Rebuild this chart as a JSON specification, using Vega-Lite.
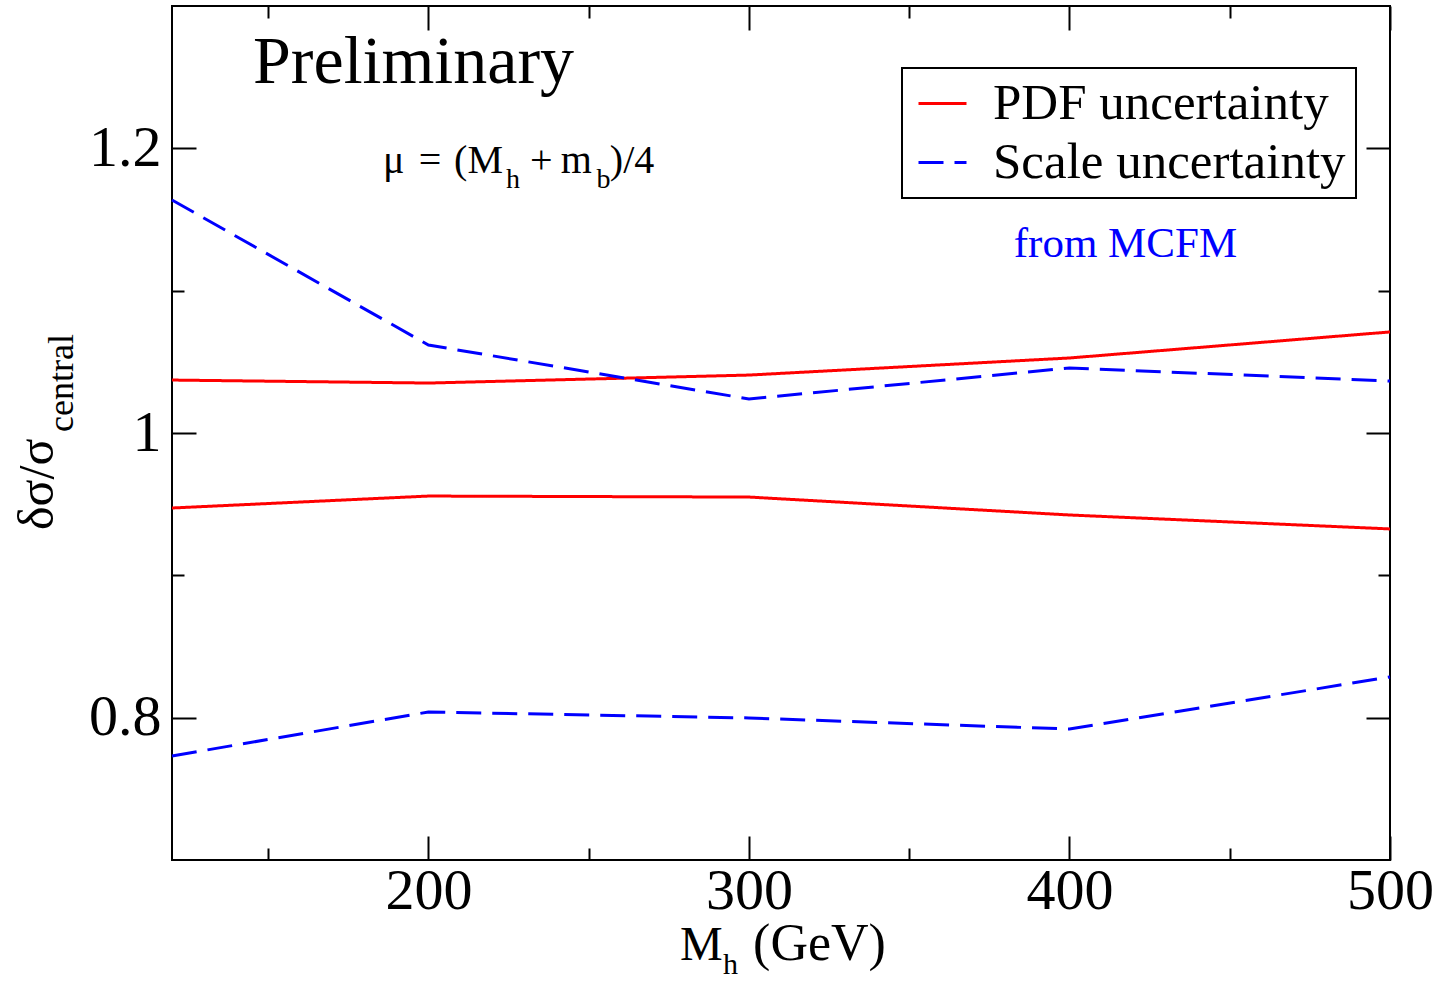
{
  "$schema": "https://vega.github.io/schema/vega-lite/v6.json",
  "width": 1218,
  "height": 854,
  "autosize": {"type": "none"},
  "padding": {"left": 172, "top": 6, "right": 51, "bottom": 122},
  "background": "white",
  "config": {
    "view": {"stroke": "black", "strokeWidth": 2},
    "axis": {"grid": false, "domain": false, "tickColor": "black", "tickWidth": 2, "labelFont": "Liberation Serif", "labelFontSize": 58, "labelColor": "black", "title": null, "labelFlush": false, "labelOverlap": false},
    "text": {"font": "Liberation Serif", "color": "black", "baseline": "alphabetic", "align": "left"},
    "legend": {"orient": "none", "legendX": 730, "legendY": 62, "padding": 10, "strokeColor": "black", "strokeWidth": 2, "fillColor": "white", "labelFont": "Liberation Serif", "labelFontSize": 51, "labelColor": "black", "labelLimit": 1000, "labelOffset": 25, "symbolOffset": 5, "symbolType": "stroke", "symbolSize": 2304, "symbolStrokeWidth": 3, "rowPadding": 7, "title": null}
  },
  "layer": [
    {
      "data": {"values": [
        {"mh": 120, "xs": 1.0372, "series": "PDF uncertainty", "bound": "upper"},
        {"mh": 200, "xs": 1.0351, "series": "PDF uncertainty", "bound": "upper"},
        {"mh": 300, "xs": 1.0407, "series": "PDF uncertainty", "bound": "upper"},
        {"mh": 400, "xs": 1.0527, "series": "PDF uncertainty", "bound": "upper"},
        {"mh": 500, "xs": 1.0710, "series": "PDF uncertainty", "bound": "upper"},
        {"mh": 120, "xs": 0.9473, "series": "PDF uncertainty", "bound": "lower"},
        {"mh": 200, "xs": 0.9557, "series": "PDF uncertainty", "bound": "lower"},
        {"mh": 300, "xs": 0.9550, "series": "PDF uncertainty", "bound": "lower"},
        {"mh": 400, "xs": 0.9424, "series": "PDF uncertainty", "bound": "lower"},
        {"mh": 500, "xs": 0.9326, "series": "PDF uncertainty", "bound": "lower"},
        {"mh": 120, "xs": 1.1637, "series": "Scale uncertainty", "bound": "upper"},
        {"mh": 200, "xs": 1.0618, "series": "Scale uncertainty", "bound": "upper"},
        {"mh": 300, "xs": 1.0239, "series": "Scale uncertainty", "bound": "upper"},
        {"mh": 400, "xs": 1.0457, "series": "Scale uncertainty", "bound": "upper"},
        {"mh": 500, "xs": 1.0365, "series": "Scale uncertainty", "bound": "upper"},
        {"mh": 120, "xs": 0.7731, "series": "Scale uncertainty", "bound": "lower"},
        {"mh": 200, "xs": 0.8040, "series": "Scale uncertainty", "bound": "lower"},
        {"mh": 300, "xs": 0.7998, "series": "Scale uncertainty", "bound": "lower"},
        {"mh": 400, "xs": 0.7920, "series": "Scale uncertainty", "bound": "lower"},
        {"mh": 500, "xs": 0.8286, "series": "Scale uncertainty", "bound": "lower"}
      ]},
      "mark": {"type": "line", "strokeWidth": 3},
      "encoding": {
        "x": {"field": "mh", "type": "quantitative", "scale": {"domain": [120, 500], "nice": false, "zero": false},
          "axis": {"orient": "bottom", "values": [150, 200, 250, 300, 350, 400, 450, 500], "labelExpr": "datum.value % 100 === 0 ? datum.label : ''", "tickSize": {"expr": "datum.value % 100 === 0 ? -24 : -12"}, "labelPadding": 26}},
        "y": {"field": "xs", "type": "quantitative", "scale": {"domain": [0.7, 1.3], "nice": false, "zero": false},
          "axis": {"orient": "left", "values": [0.8, 0.9, 1.0, 1.1, 1.2], "format": "~g", "labelExpr": "round(datum.value * 10) % 2 === 0 ? datum.label : ''", "tickSize": {"expr": "round(datum.value * 10) % 2 === 0 ? -24 : -12"}, "labelPadding": 35}},
        "color": {"field": "series", "type": "nominal", "scale": {"domain": ["PDF uncertainty", "Scale uncertainty"], "range": ["#ff0000", "#0000ff"]}},
        "strokeDash": {"field": "series", "type": "nominal", "scale": {"domain": ["PDF uncertainty", "Scale uncertainty"], "range": [[1, 0], [25, 11]]}},
        "detail": {"field": "bound"}
      }
    },
    {
      "data": {"values": [{"label": "Preliminary"}]},
      "mark": {"type": "text", "fontSize": 68},
      "encoding": {
        "x": {"datum": 145.27, "type": "quantitative", "scale": {"domain": [120, 500], "nice": false, "zero": false},
          "axis": {"orient": "top", "values": [150, 200, 250, 300, 350, 400, 450, 500], "labels": false, "tickSize": {"expr": "datum.value % 100 === 0 ? -24 : -12"}}},
        "y": {"datum": 1.2459, "type": "quantitative", "scale": {"domain": [0.7, 1.3], "nice": false, "zero": false},
          "axis": {"orient": "right", "values": [0.8, 0.9, 1.0, 1.1, 1.2], "labels": false, "tickSize": {"expr": "round(datum.value * 10) % 2 === 0 ? -24 : -12"}}},
        "text": {"field": "label"}
      }
    },
    {
      "data": {"values": [{"label": "μ"}]},
      "mark": {"type": "text", "fontSize": 40},
      "encoding": {
        "x": {"datum": 185.83, "type": "quantitative", "scale": {"domain": [120, 500], "nice": false, "zero": false}, "axis": null},
        "y": {"datum": 1.18267, "type": "quantitative", "scale": {"domain": [0.7, 1.3], "nice": false, "zero": false}, "axis": null},
        "text": {"field": "label"}
      }
    },
    {
      "data": {"values": [{"label": "="}]},
      "mark": {"type": "text", "fontSize": 40},
      "encoding": {
        "x": {"datum": 197.0, "type": "quantitative", "scale": {"domain": [120, 500], "nice": false, "zero": false}, "axis": null},
        "y": {"datum": 1.18267, "type": "quantitative", "scale": {"domain": [0.7, 1.3], "nice": false, "zero": false}, "axis": null},
        "text": {"field": "label"}
      }
    },
    {
      "data": {"values": [{"label": "(M"}]},
      "mark": {"type": "text", "fontSize": 40},
      "encoding": {
        "x": {"datum": 208.0, "type": "quantitative", "scale": {"domain": [120, 500], "nice": false, "zero": false}, "axis": null},
        "y": {"datum": 1.18267, "type": "quantitative", "scale": {"domain": [0.7, 1.3], "nice": false, "zero": false}, "axis": null},
        "text": {"field": "label"}
      }
    },
    {
      "data": {"values": [{"label": "h"}]},
      "mark": {"type": "text", "fontSize": 28},
      "encoding": {
        "x": {"datum": 224.2, "type": "quantitative", "scale": {"domain": [120, 500], "nice": false, "zero": false}, "axis": null},
        "y": {"datum": 1.17213, "type": "quantitative", "scale": {"domain": [0.7, 1.3], "nice": false, "zero": false}, "axis": null},
        "text": {"field": "label"}
      }
    },
    {
      "data": {"values": [{"label": "+"}]},
      "mark": {"type": "text", "fontSize": 40},
      "encoding": {
        "x": {"datum": 231.69, "type": "quantitative", "scale": {"domain": [120, 500], "nice": false, "zero": false}, "axis": null},
        "y": {"datum": 1.18267, "type": "quantitative", "scale": {"domain": [0.7, 1.3], "nice": false, "zero": false}, "axis": null},
        "text": {"field": "label"}
      }
    },
    {
      "data": {"values": [{"label": "m"}]},
      "mark": {"type": "text", "fontSize": 40},
      "encoding": {
        "x": {"datum": 241.3, "type": "quantitative", "scale": {"domain": [120, 500], "nice": false, "zero": false}, "axis": null},
        "y": {"datum": 1.18267, "type": "quantitative", "scale": {"domain": [0.7, 1.3], "nice": false, "zero": false}, "axis": null},
        "text": {"field": "label"}
      }
    },
    {
      "data": {"values": [{"label": "b"}]},
      "mark": {"type": "text", "fontSize": 28},
      "encoding": {
        "x": {"datum": 252.4, "type": "quantitative", "scale": {"domain": [120, 500], "nice": false, "zero": false}, "axis": null},
        "y": {"datum": 1.17213, "type": "quantitative", "scale": {"domain": [0.7, 1.3], "nice": false, "zero": false}, "axis": null},
        "text": {"field": "label"}
      }
    },
    {
      "data": {"values": [{"label": ")/4"}]},
      "mark": {"type": "text", "fontSize": 40},
      "encoding": {
        "x": {"datum": 256.6, "type": "quantitative", "scale": {"domain": [120, 500], "nice": false, "zero": false}, "axis": null},
        "y": {"datum": 1.18267, "type": "quantitative", "scale": {"domain": [0.7, 1.3], "nice": false, "zero": false}, "axis": null},
        "text": {"field": "label"}
      }
    },
    {
      "data": {"values": [{"label": "from MCFM"}]},
      "mark": {"type": "text", "fontSize": 43, "align": "center", "color": "#0000ff"},
      "encoding": {
        "x": {"datum": 417.47, "type": "quantitative", "scale": {"domain": [120, 500], "nice": false, "zero": false}, "axis": null},
        "y": {"datum": 1.12365, "type": "quantitative", "scale": {"domain": [0.7, 1.3], "nice": false, "zero": false}, "axis": null},
        "text": {"field": "label"}
      }
    },
    {
      "data": {"values": [{"label": "M"}]},
      "mark": {"type": "text", "fontSize": 48},
      "encoding": {
        "x": {"datum": 278.49, "type": "quantitative", "scale": {"domain": [120, 500], "nice": false, "zero": false}, "axis": null},
        "y": {"datum": 0.62974, "type": "quantitative", "scale": {"domain": [0.7, 1.3], "nice": false, "zero": false}, "axis": null},
        "text": {"field": "label"}
      }
    },
    {
      "data": {"values": [{"label": "h"}]},
      "mark": {"type": "text", "fontSize": 30},
      "encoding": {
        "x": {"datum": 291.9, "type": "quantitative", "scale": {"domain": [120, 500], "nice": false, "zero": false}, "axis": null},
        "y": {"datum": 0.6199, "type": "quantitative", "scale": {"domain": [0.7, 1.3], "nice": false, "zero": false}, "axis": null},
        "text": {"field": "label"}
      }
    },
    {
      "data": {"values": [{"label": "(GeV)"}]},
      "mark": {"type": "text", "fontSize": 52},
      "encoding": {
        "x": {"datum": 301.3, "type": "quantitative", "scale": {"domain": [120, 500], "nice": false, "zero": false}, "axis": null},
        "y": {"datum": 0.62974, "type": "quantitative", "scale": {"domain": [0.7, 1.3], "nice": false, "zero": false}, "axis": null},
        "text": {"field": "label"}
      }
    },
    {
      "data": {"values": [{"label": "δσ/σ"}]},
      "mark": {"type": "text", "fontSize": 50, "angle": 270},
      "encoding": {
        "x": {"datum": 82.87, "type": "quantitative", "scale": {"domain": [120, 500], "nice": false, "zero": false}, "axis": null},
        "y": {"datum": 0.93185, "type": "quantitative", "scale": {"domain": [0.7, 1.3], "nice": false, "zero": false}, "axis": null},
        "text": {"field": "label"}
      }
    },
    {
      "data": {"values": [{"label": "central"}]},
      "mark": {"type": "text", "fontSize": 36, "angle": 270},
      "encoding": {
        "x": {"datum": 89.11, "type": "quantitative", "scale": {"domain": [120, 500], "nice": false, "zero": false}, "axis": null},
        "y": {"datum": 1.0007, "type": "quantitative", "scale": {"domain": [0.7, 1.3], "nice": false, "zero": false}, "axis": null},
        "text": {"field": "label"}
      }
    }
  ],
  "resolve": {"axis": {"x": "independent", "y": "independent"}}
}
